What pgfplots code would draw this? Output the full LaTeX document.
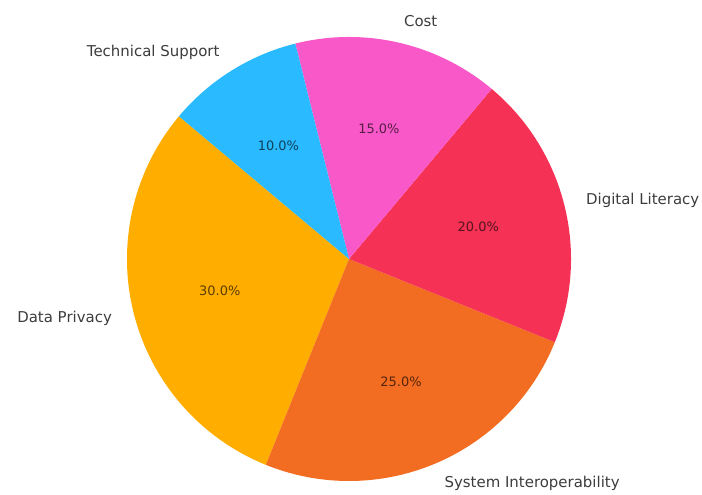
\documentclass[border=0pt]{standalone}
\usepackage{fontspec}
\setmainfont{DejaVu Sans}
\usepackage{pgfplots}
\pgfplotsset{compat=1.18}
\definecolor{cDP}{RGB}{255,174,0}
\definecolor{cSI}{RGB}{242,108,33}
\definecolor{cDL}{RGB}{245,50,85}
\definecolor{cC}{RGB}{248,88,200}
\definecolor{cTS}{RGB}{42,186,255}
\definecolor{lbl}{RGB}{60,60,60}
% values (percent), in plotting order, start angle 140, counter-clockwise
\def\vDP{30}\def\vSI{25}\def\vDL{20}\def\vC{15}\def\vTS{10}
\def\startang{140}
\def\cx{349}\def\cy{233}\def\rad{222}
\newcommand{\slice}[5]{% start value color label name
  \pgfmathsetmacro\aS{#1}%
  \pgfmathsetmacro\aE{#1+3.6*#2}%
  \pgfmathsetmacro\aM{(\aS+\aE)/2}%
  \pgfmathsetmacro\cosM{cos(\aM)}%
  \edef\doit{%
    \noexpand\fill[#3] (axis cs:\cx,\cy) -- ++(\aS:\rad bp) arc[start angle=\aS, end angle=\aE, radius=\rad bp] -- cycle;
    \noexpand\node[text=#3!35!black, font=\noexpand\fontsize{13}{15}\noexpand\selectfont] at ($(axis cs:\cx,\cy)+(\aM:0.6*\rad bp)$) {#2.0\noexpand\%};
  }\doit
  \pgfmathparse{\cosM<0?1:0}%
  \ifnum\pgfmathresult=1
    \edef\doit{\noexpand\node[anchor=east, inner sep=0pt, text=lbl, font=\noexpand\fontsize{15}{17}\noexpand\selectfont] at ($(axis cs:\cx,\cy)+(\aM:1.1*\rad bp)$) {#4};}%
  \else
    \edef\doit{\noexpand\node[anchor=west, inner sep=0pt, text=lbl, font=\noexpand\fontsize{15}{17}\noexpand\selectfont] at ($(axis cs:\cx,\cy)+(\aM:1.1*\rad bp)$) {#4};}%
  \fi
  \doit
}
\usetikzlibrary{calc}
\begin{document}
\begin{tikzpicture}
\begin{axis}[
  x=1bp, y=1bp, xmin=0, xmax=702, ymin=0, ymax=492,
  scale only axis, hide axis, clip=false]
\addplot[draw=none, forget plot] coordinates {(0,0) (702,492)};
\pgfmathsetmacro\aA{\startang}
\pgfmathsetmacro\aB{\aA+3.6*\vDP}
\pgfmathsetmacro\aC{\aB+3.6*\vSI}
\pgfmathsetmacro\aD{\aC+3.6*\vDL}
\pgfmathsetmacro\aF{\aD+3.6*\vC}
\slice{\aA}{\vDP}{cDP}{Data Privacy}{}
\slice{\aB}{\vSI}{cSI}{System Interoperability}{}
\slice{\aC}{\vDL}{cDL}{Digital Literacy}{}
\slice{\aD}{\vC}{cC}{Cost}{}
\slice{\aF}{\vTS}{cTS}{Technical Support}{}
\end{axis}
\useasboundingbox (current axis.south west) rectangle (current axis.north east);
\end{tikzpicture}
\end{document}
